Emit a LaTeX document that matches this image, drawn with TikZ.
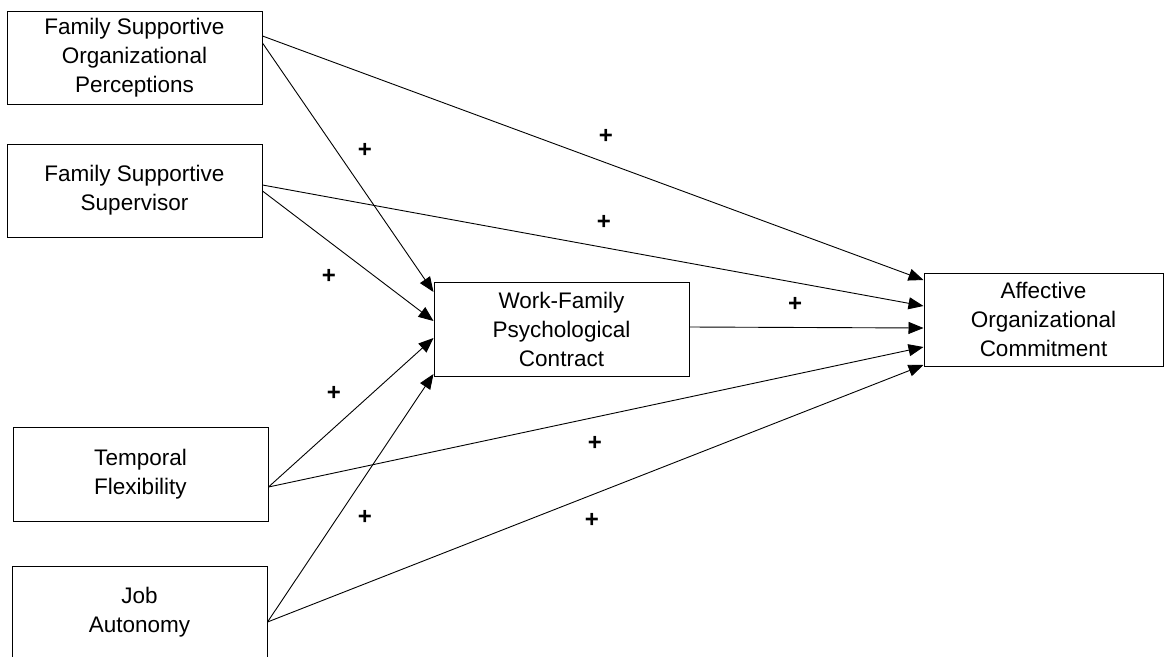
\documentclass[tikz,border=0pt]{standalone}
\usepackage{fontspec}
\setmainfont{Liberation Sans}
\usetikzlibrary{arrows.meta}
\tikzset{
  box/.style={draw, line width=1pt, rectangle, align=center, inner sep=2pt,
    minimum width=255pt, minimum height=93pt,
    font=\fontsize{22.5}{29}\selectfont},
  conn/.style={line width=0.9pt, -{Triangle[length=15pt,width=12pt]}},
  sign/.style={font=\fontsize{24}{29}\selectfont\bfseries, inner sep=0pt}
}
\begin{document}
\begin{tikzpicture}[x=1pt,y=-1pt]
\useasboundingbox (0,0) rectangle (1167,656);
\node[box] (fsop) at (134.5,57.5) {Family Supportive\\Organizational\\Perceptions};
\node[box] (fss) at (134.5,190.5) {Family Supportive\\Supervisor};
\node[box, minimum height=94pt] (tf) at (140.5,474) {Temporal\\Flexibility};
\node[box, minimum height=92pt] (ja) at (139.5,612) {Job\\Autonomy};
\node[box, minimum height=94pt] (wfpc) at (561.5,329) {Work-Family\\Psychological\\Contract};
\node[box, minimum width=239pt] (aoc) at (1043.5,319.5) {Affective\\Organizational\\Commitment};

\draw[conn] ([yshift=21.5pt]fsop.east) -- ([yshift=39.5pt]aoc.west);
\draw[conn] ([yshift=14.5pt]fsop.east) -- ([yshift=37pt]wfpc.west);
\draw[conn] ([yshift=5.5pt]fss.east) -- ([yshift=13.5pt]aoc.west);
\draw[conn] ([yshift=-0.5pt]fss.east) -- ([yshift=8pt]wfpc.west);
\draw[conn] ([yshift=2pt]wfpc.east) -- ([yshift=-8.5pt]aoc.west);
\draw[conn] ([yshift=-13pt]tf.east) -- ([yshift=-9pt]wfpc.west);
\draw[conn] ([yshift=-13pt]tf.east) -- ([yshift=-27.5pt]aoc.west);
\draw[conn] ([yshift=-10pt]ja.east) -- ([yshift=-45pt]wfpc.west);
\draw[conn] ([yshift=-10pt]ja.east) -- ([yshift=-45.5pt]aoc.west);

\node[sign] (p1) at (365,150) {+};
\node[sign] (p2) at (329,276) {+};
\node[sign] (p3) at (606,136) {+};
\node[sign] (p4) at (604,222) {+};
\node[sign] (p5) at (795,304) {+};
\node[sign] (p6) at (334,393) {+};
\node[sign] (p7) at (595,443) {+};
\node[sign] (p8) at (365,517) {+};
\node[sign] (p9) at (592,520) {+};
\end{tikzpicture}
\end{document}
